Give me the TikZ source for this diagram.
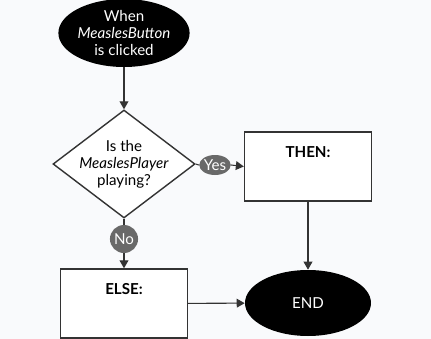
\documentclass[tikz,border=0pt]{standalone}
\usepackage{fontspec}
\setmainfont{Lato}
\usepackage{tikz}
\usetikzlibrary{shapes.geometric, arrows.meta}
\definecolor{bgc}{RGB}{249,250,252}
\definecolor{linec}{RGB}{51,51,51}
\definecolor{tagc}{RGB}{105,105,105}

\begin{document}
\begin{tikzpicture}[
  font=\fontsize{8.6}{9.7}\selectfont,
  term/.style={ellipse, fill=black, text=white, align=center, inner sep=0pt},
  decide/.style={diamond, draw=linec, line width=0.8pt, fill=white, align=center,
    inner sep=-2pt, shape aspect=1.31, minimum width=2.84cm, minimum height=2.16cm},
  box/.style={draw=linec, line width=0.8pt, fill=white, minimum width=2.54cm, minimum height=1.38cm},
  title/.style={anchor=north, font=\fontsize{8.6}{9.7}\selectfont\bfseries, yshift=-0.18cm},
  tag/.style={ellipse, fill=tagc, text=white, inner sep=0pt},
  >={Triangle[length=4.5pt, width=5pt]}
]
\path[use as bounding box, fill=bgc] (0,0) rectangle (8.62,-6.78);
\clip (0,0) rectangle (8.62,-6.78);

\node[term, minimum width=2.46cm, minimum height=1.36cm] (start) at (2.48,-0.66)
  {When\\\textit{MeaslesButton}\\is clicked};
\node[decide] (dec) at (2.48,-3.28)
  {Is the\\\textit{MeaslesPlayer}\\playing?};

\node[tag, minimum width=0.56cm, minimum height=0.40cm] (yes) at (4.30,-3.30) {Yes};
\node[tag, minimum width=0.42cm, minimum height=0.56cm] (no) at (2.48,-4.78) {No};

\node[box, label={[title]north:THEN:}] (then) at (6.16,-3.33) {};
\node[box, label={[title]north:ELSE:}] (else) at (2.48,-6.07) {};
\node[term, minimum width=2.52cm, minimum height=1.32cm] (end) at (6.16,-6.06) {END};

\draw[->, linec, line width=0.6pt] (start) -- (dec);
\draw[linec, line width=0.6pt] (dec.east) -- (yes.west);
\draw[->, linec, line width=0.6pt] (yes.east) -- (then.west);
\draw[linec, line width=0.6pt] (dec.south) -- (no.north);
\draw[->, linec, line width=0.6pt] (no.south) -- (else.north);
\draw[->, linec, line width=0.6pt] (then) -- (end);
\draw[->, linec, line width=0.6pt] (else) -- (end);
\end{tikzpicture}
\end{document}
